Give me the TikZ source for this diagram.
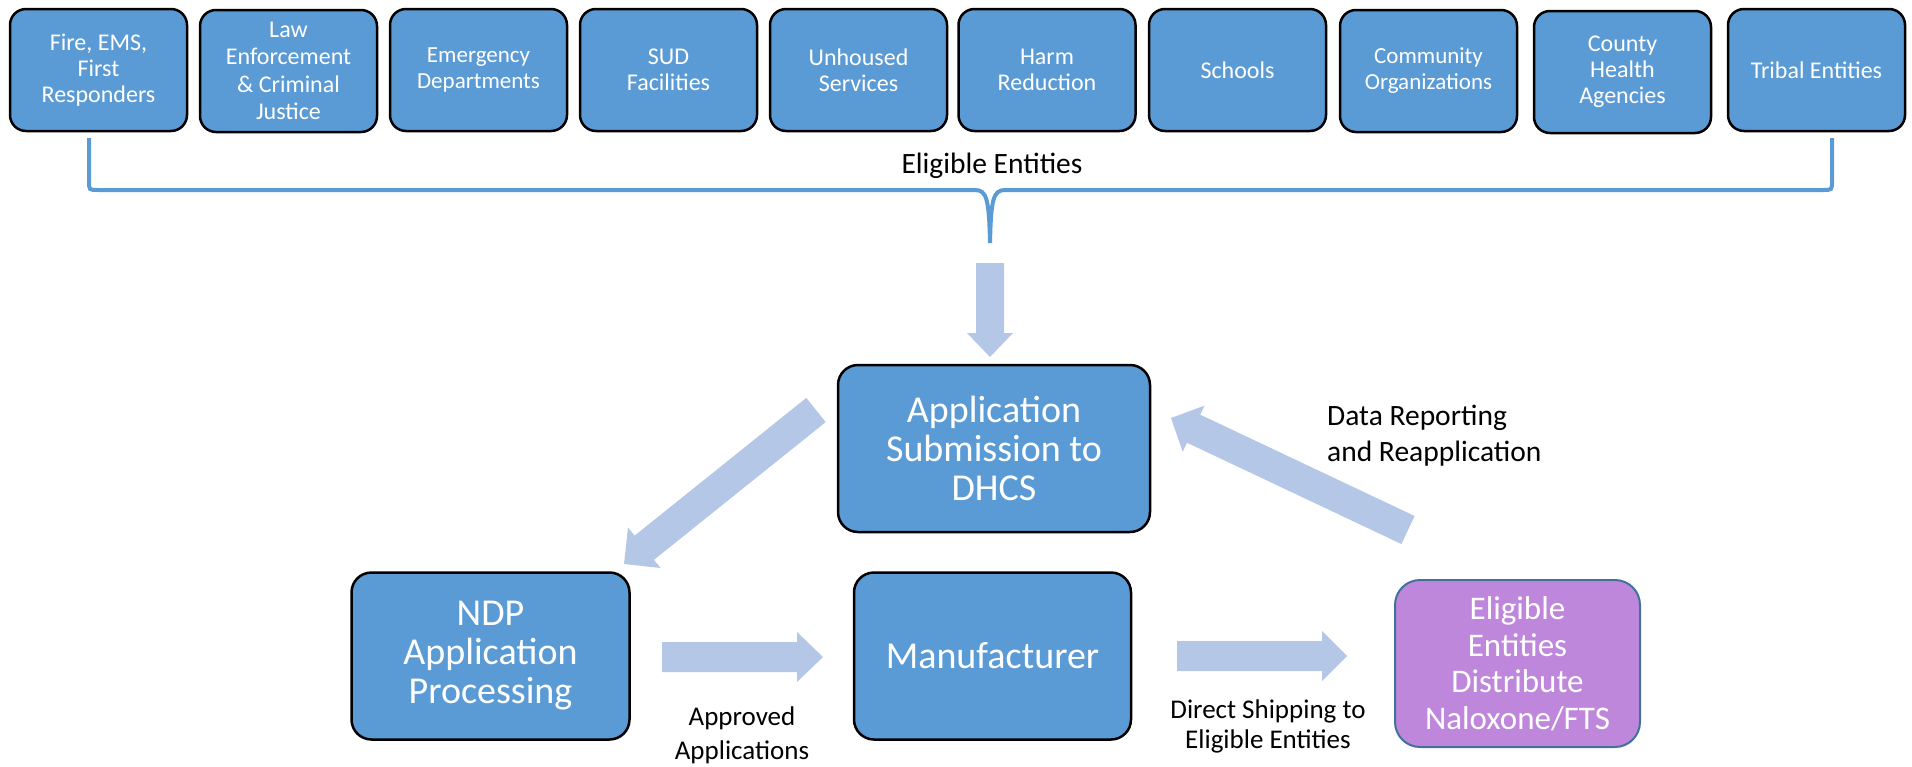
\documentclass[tikz,border=0pt]{standalone}
\usepackage{fontspec}
\setmainfont{Carlito}
\usetikzlibrary{calc}
\definecolor{boxblue}{RGB}{91,155,213}
\definecolor{arrowfill}{RGB}{180,199,231}
\definecolor{purplefill}{RGB}{191,135,220}
\definecolor{purpleline}{RGB}{65,113,156}
\newcommand\blockarrow[5]{%
  \coordinate (ba-c) at ($(#2)!#5!(#1)$);
  \fill[arrowfill] ($(#1)!#3!90:(#2)$) -- ($(ba-c)!#3!90:(#2)$) -- ($(ba-c)!#4!90:(#2)$) -- (#2) -- ($(ba-c)!#4!-90:(#2)$) -- ($(ba-c)!#3!-90:(#2)$) -- ($(#1)!#3!-90:(#2)$) -- cycle;}
\begin{document}
\begin{tikzpicture}[x=1pt,y=-1pt,
  topbox/.style={draw=black, line width=2.5pt, fill=boxblue, rounded corners=16pt,
    minimum width=177pt, minimum height=122pt, inner sep=0pt, align=center,
    text=white, font=\fontsize{24}{26}\selectfont},
  bigbox/.style={draw=black, line width=2.5pt, fill=boxblue, rounded corners=20pt,
    minimum height=167pt, inner sep=0pt, align=center,
    text=white, font=\fontsize{38}{39}\selectfont},
  purplebox/.style={draw=purpleline, line width=2pt, fill=purplefill, rounded corners=25pt,
    minimum width=245pt, minimum height=167pt, inner sep=0pt, align=center,
    text=white, font=\fontsize{33}{36.5}\selectfont},
  lbl/.style={inner sep=0pt, text=black, font=\fontsize{27}{34}\selectfont},
  bracestyle/.style={draw=boxblue, line width=4pt}]
\useasboundingbox (0,0) rectangle (1912,766);
% top boxes
\node[topbox] (t1) at (98.5,70) {Fire, EMS,\\First\\Responders};
\node[topbox, font=\fontsize{24}{27.5}\selectfont] (t2) at (288.5,71) {Law\\Enforcement\\\& Criminal\\Justice};
\node[topbox, font=\fontsize{23}{26}\selectfont] (t3) at (478.5,70) {Emergency\\Departments};
\node[topbox] (t4) at (668.5,70) {SUD\\Facilities};
\node[topbox] (t5) at (858.5,70) {Unhoused\\Services};
\node[topbox] (t6) at (1047,70) {Harm\\Reduction};
\node[topbox] (t7) at (1237.5,70) {Schools};
\node[topbox, font=\fontsize{23}{26}\selectfont] (t8) at (1428.5,71) {Community\\Organizations};
\node[topbox] (t9) at (1622.5,72) {County\\Health\\Agencies};
\node[topbox, font=\fontsize{24}{26}\selectfont] (t10) at (1816.5,70) {Tribal Entities};
% brace
\coordinate (bl) at (89,138);
\coordinate (br) at (1832,138);
\coordinate (btip) at (990,243);
\draw[bracestyle] (bl) -- (89,181) .. controls (89,190) .. (98,190) -- (975,190)
   .. controls (987,190) and (989,200) .. (btip);
\draw[bracestyle] (br) -- (1832,181) .. controls (1832,190) .. (1823,190) -- (1005,190)
   .. controls (993,190) and (991,200) .. (btip);
\node[lbl, font=\fontsize{29.5}{34}\selectfont] (ee) at (992,166) {Eligible Entities};
% main boxes
\node[bigbox, minimum width=312pt] (app) at (994,448.5) {Application\\Submission to\\DHCS};
\node[bigbox, minimum width=278pt] (ndp) at (490.5,656) {NDP\\Application\\Processing};
\node[bigbox, minimum width=277pt] (man) at (992.5,656) {Manufacturer};
\node[purplebox] (eli) at (1517.5,663.5) {Eligible\\Entities\\Distribute\\Naloxone/FTS};
% arrow ends
\coordinate (a1t) at (990,263);
\coordinate (a1h) at (990,357);
\coordinate (a2t) at (816,410);
\coordinate (a2h) at (624,564);
\coordinate (a3t) at (662,657);
\coordinate (a3h) at (823,657);
\coordinate (a4t) at (1177,656);
\coordinate (a4h) at (1347,656);
\coordinate (a5t) at (1408,530);
\coordinate (a5h) at (1171,418);
\blockarrow{a1t}{a1h}{14pt}{23pt}{24pt}
\blockarrow{a2t}{a2h}{15.5pt}{26pt}{26pt}
\blockarrow{a3t}{a3h}{15pt}{25pt}{26pt}
\blockarrow{a4t}{a4h}{15pt}{25pt}{25pt}
\blockarrow{a5t}{a5h}{15.5pt}{25.5pt}{25pt}
% labels
\node[lbl, align=left, anchor=west, font=\fontsize{29.5}{36}\selectfont] (dr) at (1327,436) {Data Reporting\\and Reapplication};
\node[lbl, align=center] (aa) at (742,735) {Approved\\Applications};
\node[lbl, align=center, font=\fontsize{27}{30}\selectfont] (ds) at (1268,726) {Direct Shipping to\\Eligible Entities};
\end{tikzpicture}
\end{document}
